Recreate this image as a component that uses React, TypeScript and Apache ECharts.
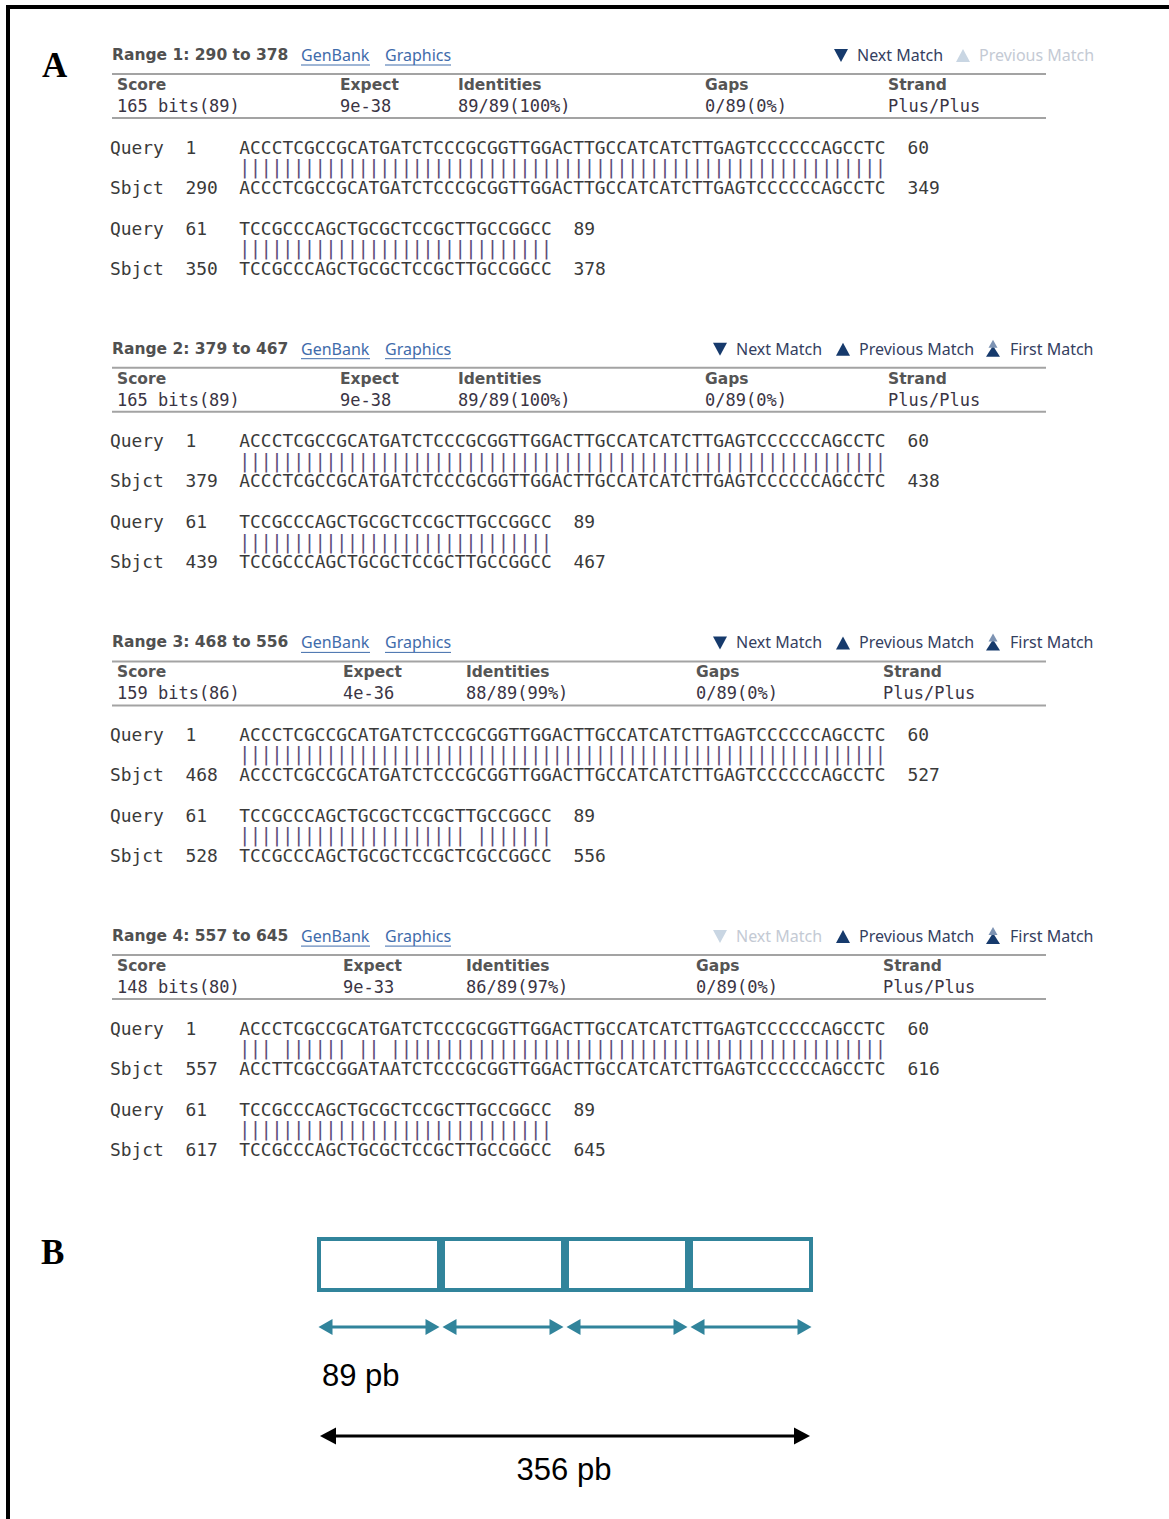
import React, { useEffect, useRef } from "react";
import * as echarts from "echarts";

// ---------- data ----------
const subjectStarts = [290, 379, 468, 557];
const subjectEnds = [378, 467, 556, 645];
const scores = ["165 bits(89)", "165 bits(89)", "159 bits(86)", "148 bits(80)"];
const expects = ["9e-38", "9e-38", "4e-36", "9e-33"];
const identities = ["89/89(100%)", "89/89(100%)", "88/89(99%)", "86/89(97%)"];
const gaps = ["0/89(0%)", "0/89(0%)", "0/89(0%)", "0/89(0%)"];
const strands = ["Plus/Plus", "Plus/Plus", "Plus/Plus", "Plus/Plus"];
const statHeaders = ["Score", "Expect", "Identities", "Gaps", "Strand"];

const querySeq1 = "ACCCTCGCCGCATGATCTCCCGCGGTTGGACTTGCCATCATCTTGAGTCCCCCCAGCCTC";
const querySeq2 = "TCCGCCCAGCTGCGCTCCGCTTGCCGGCC";
const subjectSeq1 = [
  "ACCCTCGCCGCATGATCTCCCGCGGTTGGACTTGCCATCATCTTGAGTCCCCCCAGCCTC",
  "ACCCTCGCCGCATGATCTCCCGCGGTTGGACTTGCCATCATCTTGAGTCCCCCCAGCCTC",
  "ACCCTCGCCGCATGATCTCCCGCGGTTGGACTTGCCATCATCTTGAGTCCCCCCAGCCTC",
  "ACCTTCGCCGGATAATCTCCCGCGGTTGGACTTGCCATCATCTTGAGTCCCCCCAGCCTC",
];
const subjectSeq2 = [
  "TCCGCCCAGCTGCGCTCCGCTTGCCGGCC",
  "TCCGCCCAGCTGCGCTCCGCTTGCCGGCC",
  "TCCGCCCAGCTGCGCTCCGCTCGCCGGCC",
  "TCCGCCCAGCTGCGCTCCGCTTGCCGGCC",
];
const navNextEnabled = [true, true, true, false];
const navPrevEnabled = [false, true, true, true];
const navFirstShown = [false, true, true, true];

const blockLengths = [89, 89, 89, 89];
const unitLabel = "pb";

// ---------- styles / layout ----------
const TEAL = "#31849B";
const SEQ_FONT = "DejaVu Sans Mono";
const SEQ_SIZE = 17.9;
const CW = 10.777;
const NAVY = "#163a6c";
const NAV_TEXT = "#34405f";
const DISABLED_TEXT = "#c4cad4";
const DISABLED_TRI = "#c9d6e3";
const LINK = "#3f6cab";

function buildGraphics(): any[] {
  const els: any[] = [];
  const text = (x: number, y: number, t: string, o: any = {}) => {
    els.push({
      type: "text",
      x,
      y,
      silent: true,
      style: {
        text: t,
        fill: o.fill ?? "#333",
        fontSize: o.size ?? 15,
        fontFamily: o.family ?? "DejaVu Sans",
        fontWeight: o.weight ?? "normal",
        textAlign: o.align ?? "left",
        textVerticalAlign: "middle",
      },
    });
  };
  const line = (x1: number, y1: number, x2: number, y2: number, stroke: string, w: number) =>
    els.push({ type: "line", silent: true, shape: { x1, y1, x2, y2 }, style: { stroke, lineWidth: w } });
  const poly = (pts: number[][], fill: string) =>
    els.push({ type: "polygon", silent: true, shape: { points: pts }, style: { fill } });

  // frame
  els.push({ type: "rect", silent: true, shape: { x: 6, y: 5, width: 1163, height: 4 }, style: { fill: "#000" } });
  els.push({ type: "rect", silent: true, shape: { x: 6, y: 5, width: 4, height: 1514 }, style: { fill: "#000" } });

  // panel letters
  text(42, 65, "A", { family: "Liberation Serif", weight: "bold", size: 35, fill: "#000" });
  text(41, 1252, "B", { family: "Liberation Serif", weight: "bold", size: 35, fill: "#000" });

  const colXA = [117, 340, 458, 705, 888];
  const colXB = [117, 343, 466, 696, 883];

  for (let i = 0; i < subjectStarts.length; i++) {
    const h = 55 + i * 293.7;
    const start = subjectStarts[i];
    const end = subjectEnds[i];

    // header
    text(112, h, `Range ${i + 1}: ${start} to ${end}`, {
      weight: "bold",
      size: 15.5,
      fill: "#505050",
    });
    text(301, h, "GenBank", { family: "Noto Sans", size: 16, fill: LINK });
    line(301, h + 10, 370, h + 10, LINK, 1);
    text(385, h, "Graphics", { family: "Noto Sans", size: 16, fill: LINK });
    line(385, h + 10, 451, h + 10, LINK, 1);

    // navigation
    const hasFirst = navFirstShown[i];
    const nextTri = hasFirst ? 713 : 834;
    const prevTri = hasFirst ? 836 : 956;
    const nextCol = navNextEnabled[i] ? NAVY : DISABLED_TRI;
    const prevCol = navPrevEnabled[i] ? NAVY : DISABLED_TRI;
    poly([[nextTri, h - 6], [nextTri + 14, h - 6], [nextTri + 7, h + 7]], nextCol);
    text(nextTri + 23, h, "Next Match", {
      family: "Noto Sans",
      size: 16,
      fill: navNextEnabled[i] ? NAV_TEXT : DISABLED_TEXT,
    });
    poly([[prevTri, h + 7], [prevTri + 14, h + 7], [prevTri + 7, h - 6]], prevCol);
    text(prevTri + 23, h, "Previous Match", {
      family: "Noto Sans",
      size: 16,
      fill: navPrevEnabled[i] ? NAV_TEXT : DISABLED_TEXT,
    });
    if (hasFirst) {
      poly([[986, h + 8], [1000, h + 8], [993, h - 3]], NAVY);
      poly([[988.5, h - 1], [997.5, h - 1], [993, h - 9]], "#7d93b3");
      text(1010, h, "First Match", { family: "Noto Sans", size: 16, fill: NAV_TEXT });
    }

    // rules
    line(112, h + 19, 1046, h + 19, "#a3a3a3", 2);
    line(112, h + 63, 1046, h + 63, "#a3a3a3", 2);

    // stats
    const cols = i < 2 ? colXA : colXB;
    const vals = [scores[i], expects[i], identities[i], gaps[i], strands[i]];
    for (let k = 0; k < statHeaders.length; k++) {
      text(cols[k], h + 30, statHeaders[k], { weight: "bold", size: 15.5, fill: "#555" });
      text(cols[k], h + 51, vals[k], { family: SEQ_FONT, size: 17, fill: "#3a3444" });
    }

    // alignment blocks
    const blocks = [
      { q: querySeq1, s: subjectSeq1[i], qs: 1, ss: start, y: h + 92 },
      {
        q: querySeq2,
        s: subjectSeq2[i],
        qs: 1 + querySeq1.length,
        ss: start + subjectSeq1[i].length,
        y: h + 173,
      },
    ];
    const x0 = 110;
    const xNum = x0 + 7 * CW;
    const xSeq = x0 + 12 * CW;
    for (const b of blocks) {
      const xEnd = xSeq + (b.q.length + 2) * CW;
      const seqStyle = { family: SEQ_FONT, size: SEQ_SIZE, fill: "#3a3a3a" };
      text(x0, b.y, "Query", seqStyle);
      text(xNum, b.y, String(b.qs), seqStyle);
      text(xSeq, b.y, b.q, seqStyle);
      text(xEnd, b.y, String(b.qs + b.q.length - 1), seqStyle);
      for (let c = 0; c < b.q.length; c++) {
        if (b.q[c] === b.s[c]) {
          text(xSeq + c * CW + CW / 2, b.y + 20, "|", {
            family: SEQ_FONT,
            size: 19,
            fill: "#5d4d7a",
            align: "center",
          });
        }
      }
      text(x0, b.y + 40, "Sbjct", seqStyle);
      text(xNum, b.y + 40, String(b.ss), seqStyle);
      text(xSeq, b.y + 40, b.s, seqStyle);
      text(xEnd, b.y + 40, String(b.ss + b.s.length - 1), seqStyle);
    }
  }

  // part B labels
  const total = blockLengths.reduce((a, b) => a + b, 0);
  text(322, 1375, `${blockLengths[0]} ${unitLabel}`, { family: "Liberation Sans", size: 31, fill: "#000" });
  text(564, 1469, `${total} ${unitLabel}`, {
    family: "Liberation Sans",
    size: 31,
    fill: "#000",
    align: "center",
  });
  return els;
}

export default function App() {
  const ref = useRef<HTMLDivElement>(null);
  useEffect(() => {
    if (!ref.current) return;
    const chart = echarts.init(ref.current, undefined, { renderer: "svg" });
    const total = blockLengths.reduce((a, b) => a + b, 0);
    const arrowData: number[][] = [];
    let acc = 0;
    for (const v of blockLengths) {
      arrowData.push([acc, acc + v, 0, 0]);
      acc += v;
    }
    arrowData.push([0, total, 1, 0]);

    chart.setOption({
      animation: false,
      backgroundColor: "#fff",
      grid: { left: 317, top: 1237, width: 496, height: 55 },
      xAxis: { type: "value", min: 0, max: total, show: false },
      yAxis: { type: "category", data: ["fragment"], show: false },
      series: [
        ...blockLengths.map((v) => ({
          type: "bar",
          stack: "blocks",
          data: [v],
          barWidth: "100%",
          silent: true,
          itemStyle: { color: "#fff", borderColor: TEAL, borderWidth: 4 },
        })),
        {
          type: "custom",
          silent: true,
          clip: false,
          encode: { x: [0, 1], y: 3 },
          data: arrowData,
          renderItem: (params: any, api: any) => {
            const x1 = api.coord([api.value(0), 0])[0];
            const x2 = api.coord([api.value(1), 0])[0];
            const black = api.value(2) === 1;
            const y = black ? 1436 : 1327;
            const inset = black ? 3 : 1.5;
            const color = black ? "#000" : TEAL;
            const hw = black ? 16 : 14;
            const hh = black ? 8.5 : 8;
            const a = x1 + inset;
            const b = x2 - inset;
            return {
              type: "group",
              children: [
                {
                  type: "line",
                  shape: { x1: a + hw - 2, y1: y, x2: b - hw + 2, y2: y },
                  style: { stroke: color, lineWidth: 3 },
                },
                {
                  type: "polygon",
                  shape: { points: [[a, y], [a + hw, y - hh], [a + hw, y + hh]] },
                  style: { fill: color },
                },
                {
                  type: "polygon",
                  shape: { points: [[b, y], [b - hw, y - hh], [b - hw, y + hh]] },
                  style: { fill: color },
                },
              ],
            };
          },
        },
      ],
      graphic: { elements: buildGraphics() },
    });
    return () => chart.dispose();
  }, []);
  return (
    <div
      ref={ref}
      style={{ position: "absolute", left: 0, top: 0, width: 1169, height: 1519 }}
    />
  );
}
